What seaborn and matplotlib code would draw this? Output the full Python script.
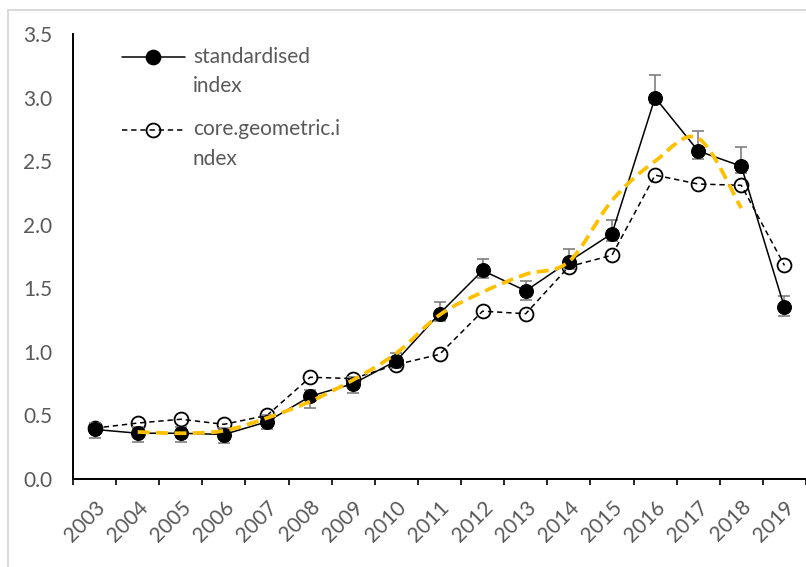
import numpy as np
import pandas as pd
import matplotlib
matplotlib.use("Agg")
import matplotlib.pyplot as plt
import matplotlib.transforms as mtransforms
from matplotlib.lines import Line2D
from matplotlib.patches import Rectangle, PathPatch
from matplotlib.path import Path
import seaborn as sns

# ---- data -------------------------------------------------------------
years = [str(y) for y in range(2003, 2020)]
standardised = [0.39, 0.36, 0.36, 0.35, 0.45, 0.65, 0.75, 0.93, 1.30,
                1.64, 1.48, 1.71, 1.93, 3.00, 2.58, 2.46, 1.35]
core_geometric = [0.40, 0.44, 0.47, 0.43, 0.50, 0.80, 0.79, 0.90, 0.98,
                  1.32, 1.30, 1.67, 1.76, 2.39, 2.32, 2.31, 1.68]
err_upper = [0.05, 0.05, 0.05, 0.05, 0.05, 0.05, 0.05, 0.06, 0.09,
             0.09, 0.08, 0.10, 0.11, 0.18, 0.16, 0.15, 0.09]
err_lower = [0.07, 0.07, 0.07, 0.07, 0.06, 0.09, 0.07, 0.06, 0.06,
             0.06, 0.07, 0.06, 0.06, 0.04, 0.06, 0.05, 0.07]
# 3-year moving average of the standardised index (2004-2018)
trend_years = years[1:-1]
trend = [0.37, 0.36, 0.38, 0.48, 0.61, 0.78, 0.99, 1.29, 1.47,
         1.61, 1.71, 2.19, 2.50, 2.68, 2.13]

# ---- style ------------------------------------------------------------
sns.set_theme(style="white")
plt.rcParams["font.family"] = ["Lato", "DejaVu Sans"]
TEXT = "#595959"
FS = 15

W, H = 806, 567
fig, ax = plt.subplots(figsize=(W / 100, H / 100), dpi=100)
fig.subplots_adjust(left=73 / W, right=1.0, bottom=1 - 479 / H, top=1 - 34 / H)

pos = {y: i + 0.5 for i, y in enumerate(years)}
df = pd.DataFrame({
    "year": years,
    "x": [pos[y] for y in years],
    "standardised": standardised,
    "core": core_geometric,
})
df_trend = pd.DataFrame({"x": [pos[y] for y in trend_years], "trend": trend})

# core.geometric.index: dashed line, open circles
sns.lineplot(data=df, x="x", y="core", ax=ax, color="black", lw=1.1,
             linestyle=(0, (3.5, 2.5)), marker="o", markersize=10,
             markerfacecolor="none", markeredgecolor="black",
             markeredgewidth=1.3, zorder=2)

# error bars of the standardised index
ax.errorbar(df["x"], df["standardised"], yerr=[err_lower, err_upper],
            fmt="none", ecolor="#7f7f7f", elinewidth=1.2, capsize=4.5,
            capthick=1.2, zorder=3)

# standardised index: solid line, filled circles
sns.lineplot(data=df, x="x", y="standardised", ax=ax, color="black", lw=1.1,
             marker="o", markersize=10, markerfacecolor="black",
             markeredgecolor="black", zorder=4)


# moving-average trend line, drawn as a smoothed (Catmull-Rom) curve
def smooth_path(xs, ys):
    p = np.column_stack([xs, ys]).astype(float)
    verts = [p[0]]
    codes = [Path.MOVETO]
    n = len(p)
    for i in range(n - 1):
        p0 = p[i - 1] if i > 0 else p[i]
        p1, p2 = p[i], p[i + 1]
        p3 = p[i + 2] if i + 2 < n else p[i + 1]
        verts += [p1 + (p2 - p0) / 6, p2 - (p3 - p1) / 6, p2]
        codes += [Path.CURVE4] * 3
    return Path(verts, codes)


ax.add_patch(PathPatch(smooth_path(df_trend["x"], df_trend["trend"]),
                       facecolor="none", edgecolor="#FFC000", lw=2.7,
                       linestyle=(0, (3.2, 1.7)), capstyle="butt", zorder=5))

# ---- axes -------------------------------------------------------------
ax.set_xlim(0, len(years))
ax.set_ylim(0, 3.5)
ax.set_xlabel("")
ax.set_ylabel("")

yt = np.arange(0, 3.51, 0.5)
ax.set_yticks(yt)
ax.set_yticklabels([f"{v:.1f}" for v in yt])
ax.tick_params(axis="y", length=0, pad=15, labelsize=FS, labelcolor=TEXT)

ax.set_xticks(np.arange(0, len(years) + 1))
ax.set_xticklabels([])
ax.tick_params(axis="x", which="major", direction="out", length=4.5,
               width=1.2, color="black", bottom=True)
ax.set_xticks([pos[y] for y in years], minor=True)
ax.set_xticklabels(years, minor=True)
ax.tick_params(axis="x", which="minor", length=0, pad=18, labelsize=FS,
               labelcolor=TEXT, bottom=True)
shift = mtransforms.ScaledTranslation(7 / 100, 0, fig.dpi_scale_trans)
for lab in ax.get_xticklabels(minor=True):
    lab.set_rotation(45)
    lab.set_rotation_mode("anchor")
    lab.set_ha("right")
    lab.set_va("center")
    lab.set_transform(lab.get_transform() + shift)

for side in ("top", "right"):
    ax.spines[side].set_visible(False)
for side in ("left", "bottom"):
    ax.spines[side].set_color("black")
    ax.spines[side].set_linewidth(1.4)
ax.grid(False)


# ---- legend (handle aligned with the first line of each label) --------
def fx(px):
    return px / W


def fy(py):
    return 1 - py / H


entries = [
    (57, 86, "-", "black", "standardised\nindex"),
    (130, 158, (0, (3.5, 2.5)), "none", "core.geometric.i\nndex"),
]
for y_line, y_second, ls, face, label in entries:
    fig.add_artist(Line2D([fx(122), fx(185)], [fy(y_line), fy(y_line)],
                          transform=fig.transFigure, color="black", lw=1.1,
                          linestyle=ls))
    fig.add_artist(Line2D([fx(153)], [fy(y_line)], transform=fig.transFigure,
                          marker="o", markersize=10, markerfacecolor=face,
                          markeredgecolor="black", markeredgewidth=1.3,
                          linestyle="none"))
    fig.text(fx(193), fy((y_line + y_second) / 2), label, ha="left",
             va="center", fontsize=FS, color=TEXT, linespacing=1.6)

# chart-area frame
fig.add_artist(Rectangle((fx(8), -0.1), 1.2, fy(10) + 0.1,
                         transform=fig.transFigure, fill=False,
                         edgecolor="#d9d9d9", lw=1.4))

fig.savefig("out.png", dpi=100)
